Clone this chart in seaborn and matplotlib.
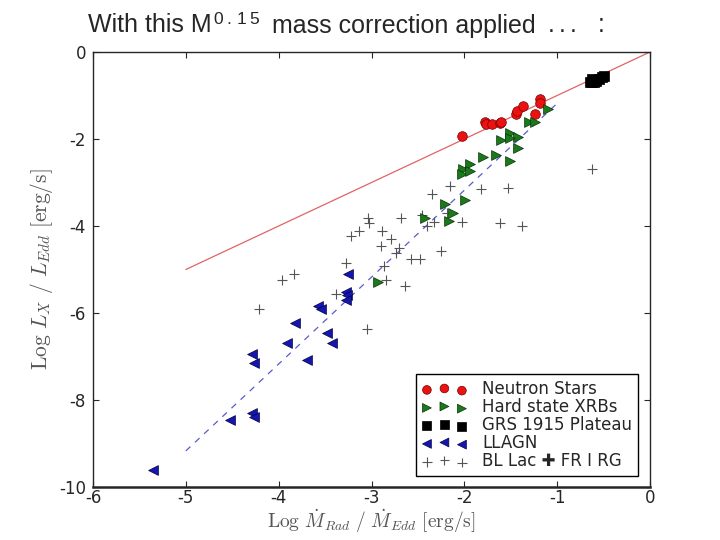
import numpy as np
import pandas as pd
import seaborn as sns
import matplotlib.pyplot as plt

# Data
ns_x = [-2.03, -1.78, -1.77, -1.70, -1.62, -1.60, -1.44, -1.43, -1.37, -1.24, -1.19, -1.18]
ns_y = [-1.92, -1.62, -1.66, -1.66, -1.64, -1.60, -1.43, -1.35, -1.24, -1.43, -1.07, -1.18]

xrb_x = [-1.10, -1.30, -1.24, -1.51, -1.42, -1.60, -1.51, -1.42, -1.80, -1.66, -1.51,
         -2.01, -1.94, -2.03, -1.94, -2.21, -1.99, -2.12, -2.42, -2.17, -2.93]
xrb_y = [-1.30, -1.60, -1.60, -1.87, -1.95, -2.02, -1.98, -2.20, -2.41, -2.37, -2.51,
         -2.70, -2.58, -2.81, -2.73, -3.49, -3.40, -3.71, -3.82, -3.89, -5.28]

grs_x = [-0.65, -0.62, -0.58, -0.55, -0.52, -0.50, -0.60, -0.63]
grs_y = [-0.68, -0.63, -0.66, -0.62, -0.58, -0.56, -0.70, -0.70]

llagn_x = [-3.25, -3.28, -3.26, -3.28, -3.58, -3.54, -3.82, -3.48, -3.43, -3.91, -3.69,
           -4.29, -4.27, -4.52, -4.29, -4.27, -5.35]
llagn_y = [-5.10, -5.52, -5.59, -5.70, -5.83, -5.90, -6.22, -6.46, -6.70, -6.70, -7.08,
           -6.94, -7.14, -8.46, -8.31, -8.38, -9.61]

bllac_x = [-0.62, -2.15, -1.82, -1.53, -2.35, -2.19, -2.03, -1.62, -1.38, -2.68, -2.46,
           -2.33, -2.40, -3.04, -3.03, -3.14, -3.22, -2.89, -2.79, -2.90, -2.70, -2.74,
           -2.25, -2.57, -2.48, -3.27, -2.87, -2.84, -2.64, -3.38, -3.96, -3.83, -4.21, -3.05]
bllac_y = [-2.70, -3.09, -3.15, -3.12, -3.27, -3.70, -3.91, -3.94, -4.01, -3.81, -3.75,
           -3.91, -4.00, -3.82, -3.92, -4.11, -4.23, -4.12, -4.31, -4.46, -4.50, -4.61,
           -4.58, -4.76, -4.77, -4.85, -4.93, -5.24, -5.39, -5.57, -5.23, -5.11, -5.90, -6.37]

# Fit lines (end points)
ns_fit_x = [-5.0, 0.0]
ns_fit_y = [-5.0, 0.0]
agn_fit_x = [-5.0, -1.0]
agn_fit_y = [-9.17, -1.18]

x_ticks = [-6, -5, -4, -3, -2, -1, 0]
y_ticks = [0, -2, -4, -6, -8, -10]

series_labels = ["Neutron Stars", "Hard state XRBs", "GRS 1915 Plateau", "LLAGN",
                 "BL Lac \u271a FR I RG"]

sns.set_style("ticks")
plt.rcParams["font.family"] = ["DejaVu Sans"]
plt.rcParams["mathtext.fontset"] = "cm"
plt.rcParams["axes.unicode_minus"] = False

fig = plt.figure(figsize=(7.2, 5.4), dpi=100)
ax = fig.add_axes([93 / 720, 1 - 487 / 540, 557 / 720, 435 / 540])

# Fit lines
sns.lineplot(x=ns_fit_x, y=ns_fit_y, ax=ax, color="#e06464", linewidth=0.9)
sns.lineplot(x=agn_fit_x, y=agn_fit_y, ax=ax, color="#5a5ad0", linewidth=0.9,
             linestyle=(0, (5, 5)))

# Scatter series
sns.scatterplot(x=bllac_x, y=bllac_y, ax=ax, marker="+", color="#555555", s=55,
                linewidth=0.8, label=series_labels[4], zorder=3)
sns.scatterplot(x=ns_x, y=ns_y, ax=ax, marker="o", color="#ee1111", s=48,
                edgecolor="#700000", linewidth=0.5, label=series_labels[0], zorder=4)
sns.scatterplot(x=xrb_x, y=xrb_y, ax=ax, marker=">", color="#1a7a1a", s=50,
                edgecolor="#0a300a", linewidth=0.5, label=series_labels[1], zorder=4)
sns.scatterplot(x=grs_x, y=grs_y, ax=ax, marker="s", color="black", s=50,
                edgecolor="black", linewidth=0.5, label=series_labels[2], zorder=4)
sns.scatterplot(x=llagn_x, y=llagn_y, ax=ax, marker="<", color="#1515b0", s=50,
                edgecolor="#000040", linewidth=0.5, label=series_labels[3], zorder=4)

ax.set_xlim(-6, 0)
ax.set_ylim(-10, 0)
ax.set_xticks(x_ticks)
ax.set_yticks(y_ticks)
ax.tick_params(direction="in", top=True, right=True, length=4, width=0.8, labelsize=12)
ax.tick_params(axis="x", pad=1.5)
ax.tick_params(axis="y", pad=5)
for side in ["left", "top", "right"]:
    ax.spines[side].set_linewidth(1.0)
ax.spines["bottom"].set_linewidth(1.8)

ax.set_xlabel(r"$\mathrm{Log}\ \dot{M}_{Rad}\ /\ \dot{M}_{Edd}\ \mathrm{[erg/s]}$",
              fontsize=14, color="#555555", labelpad=0)
ax.set_ylabel(r"$\mathrm{Log}\ L_X\ /\ L_{Edd}\ \mathrm{[erg/s]}$",
              fontsize=15.5, color="#555555", labelpad=3)

# Legend in the original order
handles, labels = ax.get_legend_handles_labels()
hmap = dict(zip(labels, handles))
leg = ax.legend([hmap[k] for k in series_labels], series_labels, loc="lower right",
                bbox_to_anchor=(0.978, 0.025), borderaxespad=0, scatterpoints=3,
                markerscale=0.9, fontsize=12, labelspacing=0.0, handlelength=2.7,
                handletextpad=0.9, borderpad=0.35, fancybox=False, framealpha=1)
leg.get_frame().set_edgecolor("black")
leg.get_frame().set_linewidth(1.0)

# Slide title with a loosely spaced superscript and spaced ellipsis
renderer = fig.canvas.get_renderer()
base_y = 1 - 32.5 / 540
sup_y = 1 - 24.5 / 540
title_font = dict(fontsize=18, family="Liberation Sans", va="baseline")
t1 = fig.text(88 / 720, base_y, "With this M", **title_font)
m_end = t1.get_window_extent(renderer).x1
for ch, dx in zip("0.15", [2, 15, 25, 38]):
    fig.text((m_end + dx) / 720, sup_y, ch, fontsize=12.5,
             family="Liberation Sans", va="baseline")
fig.text(272 / 720, base_y, "mass correction applied", **title_font)
for ch, px in zip("...:", [548, 559, 570, 598]):
    fig.text(px / 720, base_y, ch, **title_font)

fig.savefig("out.png", dpi=100)
